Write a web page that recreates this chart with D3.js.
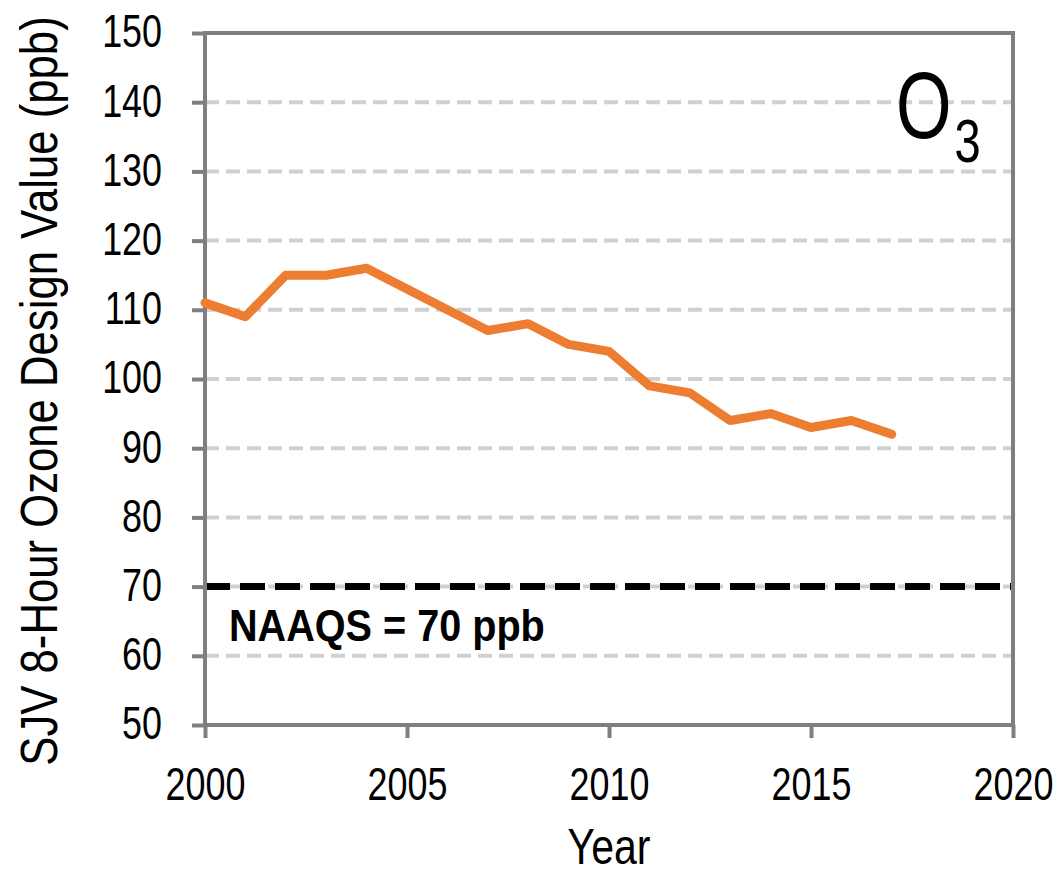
<!DOCTYPE html>
<html>
<head>
<meta charset="utf-8">
<script src="https://cdn.jsdelivr.net/npm/d3@7"></script>
<style>
  body { margin: 0; background: #fff; }
  text { font-family: "Liberation Sans", Arial, sans-serif; }
</style>
</head>
<body>
<div class="graph"></div>
<script>
// Data
var years = [2000, 2001, 2002, 2003, 2004, 2005, 2006, 2007, 2008, 2009,
             2010, 2011, 2012, 2013, 2014, 2015, 2016, 2017];
var ozone = [111, 109, 115, 115, 116, 113, 110, 107, 108, 105,
             104, 99, 98, 94, 95, 93, 94, 92];
var xTicks = [2000, 2005, 2010, 2015, 2020];
var yTicks = [50, 60, 70, 80, 90, 100, 110, 120, 130, 140, 150];
var naaqs = 70;

// Config
var lineColour = "#ed7d31";
var axisColour = "#7f7f7f";
var gridColour = "#d0d0d0";
var narrow = 0.78; // no Arial Narrow here, so squeeze the glyphs

var width = 1061,
    height = 870,
    margin = {top: 33, right: 48, bottom: 145, left: 205};

var innerW = width - margin.left - margin.right,
    innerH = height - margin.top - margin.bottom;

var x = d3.scaleLinear().domain([2000, 2020]).range([0, innerW]);
var y = d3.scaleLinear().domain([50, 150]).range([innerH, 0]);

function condense(sel, k) {
    sel.each(function() {
        var len = this.getComputedTextLength();
        d3.select(this)
            .attr("textLength", len * k)
            .attr("lengthAdjust", "spacingAndGlyphs");
    });
}

var svg = d3.select(".graph").append("svg")
    .attr("width", width)
    .attr("height", height)
    .style("display", "block");

var g = svg.append("g")
    .attr("transform", "translate(" + margin.left + "," + margin.top + ")");

// gridlines
g.selectAll(".grid")
    .data(yTicks.filter(function(d) { return d > 50 && d < 150; }))
    .enter().append("line")
    .attr("x1", 0)
    .attr("x2", innerW)
    .attr("y1", function(d) { return y(d); })
    .attr("y2", function(d) { return y(d); })
    .style("stroke", gridColour)
    .style("stroke-width", 4)
    .style("stroke-dasharray", "14,7");

// NAAQS line
g.append("line")
    .attr("x1", 0)
    .attr("x2", innerW)
    .attr("y1", y(naaqs))
    .attr("y2", y(naaqs))
    .style("stroke", "#000")
    .style("stroke-width", 7)
    .style("stroke-dasharray", "25,10");

var naaqsLabel = g.append("text")
    .attr("x", 24)
    .attr("y", y(naaqs) + 54)
    .attr("font-size", "44px")
    .attr("font-weight", "bold")
    .style("fill", "#000")
    .text("NAAQS = " + naaqs + " ppb");
condense(naaqsLabel, 0.9);

// frame
g.append("rect")
    .attr("x", 0)
    .attr("y", 0)
    .attr("width", innerW)
    .attr("height", innerH)
    .style("fill", "none")
    .style("stroke", axisColour)
    .style("stroke-width", 4);

// axes
var yAxis = g.append("g")
    .call(d3.axisLeft(y).tickValues(yTicks).tickSize(13).tickPadding(30).tickFormat(d3.format("d")));
var xAxis = g.append("g")
    .attr("transform", "translate(0," + innerH + ")")
    .call(d3.axisBottom(x).tickValues(xTicks).tickSize(13).tickPadding(29).tickFormat(d3.format("d")));

[yAxis, xAxis].forEach(function(a) {
    a.select(".domain").remove();
    a.selectAll(".tick line").style("stroke", axisColour).style("stroke-width", 4);
    a.selectAll(".tick text")
        .style("fill", "#000")
        .attr("font-size", "46px")
        .style("font-family", "\"Liberation Sans\", Arial, sans-serif");
    condense(a.selectAll(".tick text"), narrow);
});
yAxis.selectAll(".tick text").attr("dy", "0.3em");

// data line
var line = d3.line()
    .x(function(d) { return x(d[0]); })
    .y(function(d) { return y(d[1]); });

g.append("path")
    .datum(d3.zip(years, ozone))
    .attr("d", line)
    .style("fill", "none")
    .style("stroke", lineColour)
    .style("stroke-width", 9)
    .style("stroke-linejoin", "round")
    .style("stroke-linecap", "round");

// O3 label
var o3 = svg.append("g")
    .attr("transform", "translate(896,138) scale(0.76,1)")
    .append("text")
    .attr("font-size", "94px")
    .style("fill", "#000");
o3.append("tspan").text("O");
o3.append("tspan").attr("font-size", "62px").attr("dx", 4).attr("dy", 24).text("3");

// axis titles
var xTitle = svg.append("text")
    .attr("x", margin.left + innerW / 2)
    .attr("y", 864)
    .attr("text-anchor", "middle")
    .attr("font-size", "50px")
    .style("fill", "#000")
    .text("Year");
condense(xTitle, 0.82);

var yTitle = svg.append("text")
    .attr("transform", "translate(57," + 391 + ") rotate(-90)")
    .attr("text-anchor", "middle")
    .attr("font-size", "52px")
    .style("fill", "#000")
    .text("SJV 8-Hour Ozone Design Value (ppb)");
condense(yTitle, 0.84);
</script>
</body>
</html>
